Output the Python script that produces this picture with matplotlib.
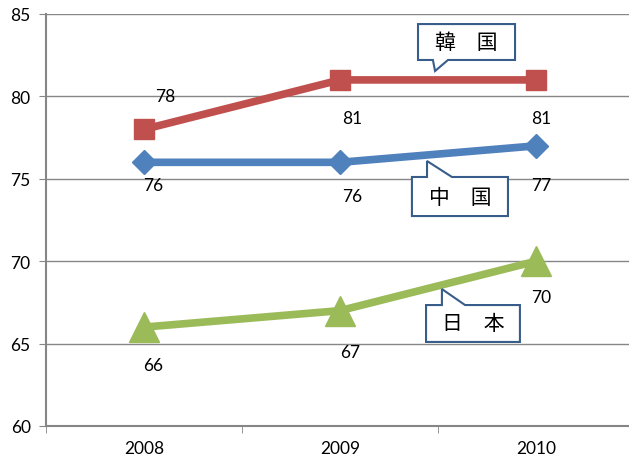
import matplotlib
matplotlib.use('Agg')
import matplotlib.pyplot as plt
from matplotlib.patches import Polygon

years = ['2008', '2009', '2010']
korea = [78, 81, 81]
china = [76, 76, 77]
japan = [66, 67, 70]
names = ['韓\u3000国', '中\u3000国', '日\u3000本']

# label offsets in pixels (dx, dy)
korea_off = [(21, 33), (12, -38), (5, -38)]
china_off = [(9, -23), (12, -34), (5, -39)]
japan_off = [(9, -38), (10, -41), (5, -36)]

plt.rcParams['font.family'] = ['Lato', 'DejaVu Sans']

fig = plt.figure(figsize=(6.29, 4.64), dpi=100)
ax = fig.add_axes([46 / 629, 37 / 464, 588 / 629, 412 / 464])

x = range(len(years))
series = [
    (korea, '#C0504D', 's', 15, korea_off),
    (china, '#4F81BD', 'D', 12, china_off),
    (japan, '#9BBB59', '^', 21, japan_off),
]
for vals, col, mk, ms, offs in series:
    ax.plot(x, vals, color=col, lw=5.5, marker=mk, markersize=ms,
            solid_capstyle='butt', zorder=3, clip_on=False)
    for i, v in enumerate(vals):
        ax.annotate(str(v), (i, v), xytext=offs[i], textcoords='offset pixels',
                    ha='center', va='center', fontsize=12.5)

# callouts: box (x0, x1, ybottom, ytop), tail (base left x, base right x, tip)
callouts = [
    (names[0], (1.398, 1.893, 82.21, 84.39), (1.474, 1.551, (1.485, 81.54)), 'bottom'),
    (names[1], (1.367, 1.857, 72.74, 75.11), (1.444, 1.571, (1.444, 76.08)), 'top'),
    (names[2], (1.439, 1.918, 65.10, 67.34), (1.520, 1.638, (1.520, 68.31)), 'top'),
]
for txt, (x0, x1, y0, y1), (b0, b1, tip), side in callouts:
    if side == 'bottom':
        pts = [(x0, y1), (x1, y1), (x1, y0), (b1, y0), tip, (b0, y0), (x0, y0)]
    else:
        pts = [(x0, y1), (b0, y1), tip, (b1, y1), (x1, y1), (x1, y0), (x0, y0)]
    ax.add_patch(Polygon(pts, closed=True, facecolor='white', edgecolor='#385D8A',
                         lw=1.5, zorder=4))
    ax.text((x0 + x1) / 2, (y0 + y1) / 2, txt, ha='center', va='center',
            fontsize=15, family=['Noto Sans CJK JP', 'DejaVu Sans'], zorder=5)

ax.set_xlim(-0.5, 2.5)
ax.set_ylim(60, 85)
ax.set_yticks(range(60, 86, 5))
ax.set_xticks(list(x))
ax.set_xticklabels(years)
ax.set_xticks([-0.5, 0.5, 1.5, 2.5], minor=True)
ax.tick_params(axis='x', which='major', length=0, pad=10, labelsize=12.5)
ax.tick_params(axis='x', which='minor', length=5, color='#868686')
ax.tick_params(axis='y', length=5, color='#868686', labelsize=12.5, pad=6)
ax.grid(axis='y', color='#868686', lw=1)
ax.set_axisbelow(True)
for s in ['top', 'right']:
    ax.spines[s].set_visible(False)
for s in ['left', 'bottom']:
    ax.spines[s].set_color('#868686')
    ax.spines[s].set_linewidth(1.5)

fig.savefig('out.png', dpi=100)
